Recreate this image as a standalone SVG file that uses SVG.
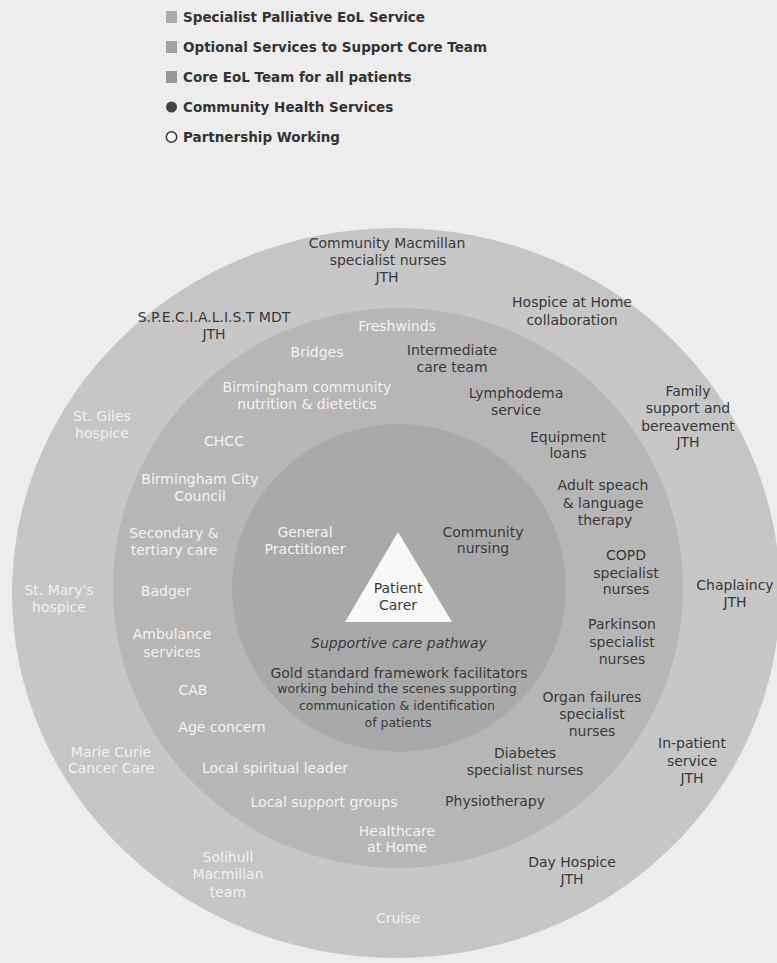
<svg xmlns="http://www.w3.org/2000/svg" width="777" height="963" viewBox="0 0 777 963">
<style>
text{font-family:"DejaVu Sans","Liberation Sans",sans-serif;font-size:14px;text-anchor:middle}
.d{fill:#3a3a3a}
.w{fill:#f2f2f2}
.s{font-size:12.5px}
.i{font-style:italic}
.lg{text-anchor:start;font-size:13.5px;font-weight:bold;fill:#333}
.r1{fill:#c6c6c6}
.r2{fill:#b6b6b6}
.r3{fill:#a9a9a9}
</style>
<rect width="777" height="963" fill="#ededed"/>
<g id="legend">
<rect x="166" y="11" width="11" height="12" class="r1" fill="#a8a8a8" style="fill:#ababab"/>
<text class="lg" x="183" y="22">Specialist Palliative EoL Service</text>
<rect x="166" y="41" width="11" height="12" style="fill:#a2a2a2"/>
<text class="lg" x="183" y="52">Optional Services to Support Core Team</text>
<rect x="166" y="71" width="11" height="12" style="fill:#999"/>
<text class="lg" x="183" y="82">Core EoL Team for all patients</text>
<circle cx="171.5" cy="107" r="5.5" fill="#444"/>
<text class="lg" x="183" y="112">Community Health Services</text>
<circle cx="171.5" cy="137" r="5.2" fill="#fff" stroke="#333" stroke-width="1.5"/>
<text class="lg" x="183" y="142">Partnership Working</text>
</g>
<g id="rings">
<ellipse id="ring-specialist" cx="396" cy="593" rx="384" ry="365" class="r1"/>
<ellipse id="ring-optional" cx="398" cy="588" rx="285" ry="280" class="r2"/>
<ellipse id="ring-core" cx="399" cy="588" rx="167" ry="164" class="r3"/>
<polygon id="patient-triangle" points="398,532 345,622 452,622" fill="#f8f8f8"/>
</g>
<g id="connectors"></g>
<g id="n-patient"><text class="d" x="398" y="593">Patient</text><text class="d" x="398" y="610">Carer</text></g>
<g id="n-cmsn"><text class="d" x="387" y="248">Community Macmillan</text><text class="d" x="388" y="265">specialist nurses</text><text class="d" x="387" y="282">JTH</text></g>
<g id="n-mdt"><text class="d" x="214" y="322">S.P.E.C.I.A.L.I.S.T MDT</text><text class="d" x="214" y="339">JTH</text></g>
<g id="n-hah"><text class="d" x="572" y="307">Hospice at Home</text><text class="d" x="572" y="325">collaboration</text></g>
<g id="n-ict"><text class="d" x="452" y="355">Intermediate</text><text class="d" x="452" y="372">care team</text></g>
<g id="n-lymph"><text class="d" x="516" y="398">Lymphodema</text><text class="d" x="516" y="415">service</text></g>
<g id="n-family"><text class="d" x="688" y="396">Family</text><text class="d" x="688" y="413">support and</text><text class="d" x="688" y="431">bereavement</text><text class="d" x="688" y="447">JTH</text></g>
<g id="n-equip"><text class="d" x="568" y="442">Equipment</text><text class="d" x="568" y="458">loans</text></g>
<g id="n-salt"><text class="d" x="603" y="490">Adult speach</text><text class="d" x="603" y="508">&amp; language</text><text class="d" x="605" y="525">therapy</text></g>
<g id="n-cn"><text class="d" x="483" y="537">Community</text><text class="d" x="483" y="553">nursing</text></g>
<g id="n-copd"><text class="d" x="626" y="560">COPD</text><text class="d" x="626" y="578">specialist</text><text class="d" x="626" y="594">nurses</text></g>
<g id="n-chap"><text class="d" x="735" y="590">Chaplaincy</text><text class="d" x="735" y="607">JTH</text></g>
<g id="n-park"><text class="d" x="622" y="629">Parkinson</text><text class="d" x="622" y="647">specialist</text><text class="d" x="622" y="664">nurses</text></g>
<g id="n-scp"><text class="d i" x="399" y="648">Supportive care pathway</text></g>
<g id="n-gsf"><text class="d" x="399" y="678">Gold standard framework facilitators</text><text class="d s" x="397" y="693">working behind the scenes supporting</text><text class="d s" x="397" y="710">communication &amp; identification</text><text class="d s" x="398" y="727">of patients</text></g>
<g id="n-organ"><text class="d" x="592" y="702">Organ failures</text><text class="d" x="592" y="719">specialist</text><text class="d" x="592" y="736">nurses</text></g>
<g id="n-inpat"><text class="d" x="692" y="748">In-patient</text><text class="d" x="692" y="766">service</text><text class="d" x="692" y="783">JTH</text></g>
<g id="n-diab"><text class="d" x="525" y="758">Diabetes</text><text class="d" x="525" y="775">specialist nurses</text></g>
<g id="n-physio"><text class="d" x="495" y="806">Physiotherapy</text></g>
<g id="n-dayh"><text class="d" x="572" y="867">Day Hospice</text><text class="d" x="572" y="884">JTH</text></g>
<g id="n-fresh"><text class="w" x="397" y="331">Freshwinds</text></g>
<g id="n-bridges"><text class="w" x="317" y="357">Bridges</text></g>
<g id="n-bcnd"><text class="w" x="307" y="392">Birmingham community</text><text class="w" x="307" y="409">nutrition &amp; dietetics</text></g>
<g id="n-stgiles"><text class="w" x="102" y="421">St. Giles</text><text class="w" x="102" y="438">hospice</text></g>
<g id="n-chcc"><text class="w" x="224" y="446">CHCC</text></g>
<g id="n-bcc"><text class="w" x="200" y="484">Birmingham City</text><text class="w" x="200" y="501">Council</text></g>
<g id="n-stc"><text class="w" x="174" y="538">Secondary &amp;</text><text class="w" x="174" y="555">tertiary care</text></g>
<g id="n-gp"><text class="w" x="305" y="537">General</text><text class="w" x="305" y="554">Practitioner</text></g>
<g id="n-stmary"><text class="w" x="59" y="595">St. Mary's</text><text class="w" x="59" y="612">hospice</text></g>
<g id="n-badger"><text class="w" x="166" y="596">Badger</text></g>
<g id="n-amb"><text class="w" x="172" y="639">Ambulance</text><text class="w" x="172" y="657">services</text></g>
<g id="n-cab"><text class="w" x="193" y="695">CAB</text></g>
<g id="n-age"><text class="w" x="222" y="732">Age concern</text></g>
<g id="n-marie"><text class="w" x="111" y="757">Marie Curie</text><text class="w" x="111" y="773">Cancer Care</text></g>
<g id="n-spirit"><text class="w" x="275" y="773">Local spiritual leader</text></g>
<g id="n-lsg"><text class="w" x="324" y="807">Local support groups</text></g>
<g id="n-hch"><text class="w" x="397" y="836">Healthcare</text><text class="w" x="397" y="852">at Home</text></g>
<g id="n-soli"><text class="w" x="228" y="862">Solihull</text><text class="w" x="228" y="879">Macmillan</text><text class="w" x="228" y="897">team</text></g>
<g id="n-cruise"><text class="w" x="398" y="923">Cruise</text></g>
</svg>
